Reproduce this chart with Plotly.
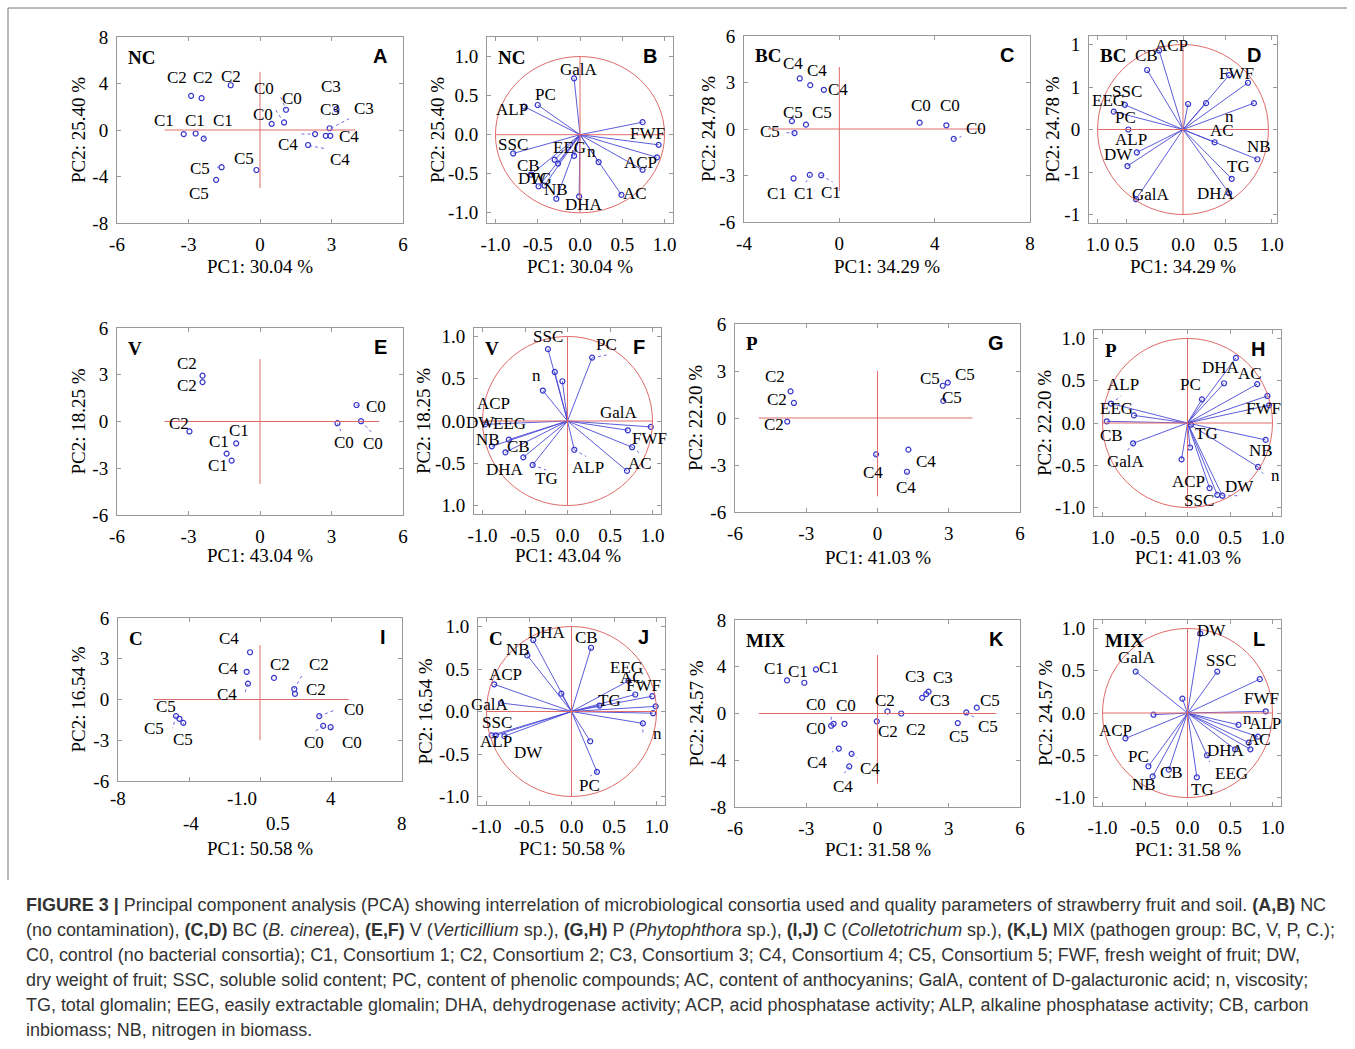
import plotly.graph_objects as go

W, H = 1355, 1049

# ======================= DATA =======================
# ---- A: NC scores ----
NC_SC_ID  = ["C1","C1","C1","C2","C2","C2","C0","C0","C0","C3","C3","C3","C4","C4","C4","C5","C5","C5"]
NC_SC_PC1 = [-3.20,-2.70,-2.36,-2.89,-2.45,-1.23,0.49,1.01,1.09,3.21,2.92,2.95,2.76,2.31,2.02,-1.61,-1.84,-0.15]
NC_SC_PC2 = [-0.35,-0.30,-0.74,2.94,2.74,3.85,0.53,0.65,1.74,1.79,0.15,-0.50,-0.50,-0.35,-1.29,-3.20,-4.29,-3.44]
# ---- B: NC loadings ----
NC_LD_PC1 = [-0.07,-0.50,-0.66,0.74,0.93,0.91,0.74,0.49,0.22,-0.01,-0.07,-0.79,-0.30,-0.26,-0.58,-0.49,-0.42,-0.28]
NC_LD_PC2 = [0.72,0.38,0.36,0.16,-0.13,-0.29,-0.45,-0.77,-0.35,-0.79,-0.27,-0.24,-0.32,-0.37,-0.51,-0.66,-0.65,-0.82]
NC_LD_VAR = ["GalA","PC","ALP","FWF","SSC","EEG","n","ACP","CB","DW","TG","NB","DHA","AC"]

# ---- C: BC scores ----
BC_SC_ID  = ["C4","C4","C4","C5","C5","C5","C0","C0","C0","C1","C1","C1"]
BC_SC_PC1 = [-1.66,-1.22,-0.65,-1.99,-1.40,-1.88,3.37,4.49,4.80,-1.92,-1.24,-0.76]
BC_SC_PC2 = [3.26,2.83,2.53,0.51,0.28,-0.26,0.41,0.24,-0.64,-3.19,-2.96,-2.98]
# ---- D: BC loadings ----
BC_LD_PC1 = [-0.28,-0.42,0.54,0.76,0.83,0.06,0.27,-0.68,-0.81,-0.64,-0.54,-0.65,0.37,0.87,0.57,0.54,-0.55]
BC_LD_PC2 = [0.93,0.70,0.64,0.55,0.31,0.30,0.31,0.29,0.21,0.00,-0.27,-0.43,-0.15,-0.35,-0.58,-0.75,-0.82]
BC_LD_VAR = ["ACP","CB","FWF","SSC","EEG","PC","n","AC","ALP","NB","DW","TG","DHA","GalA"]

# ---- E: V scores ----
V_SC_ID  = ["C2","C2","C2","C1","C1","C1","C0","C0","C0"]
V_SC_PC1 = [-2.41,-2.41,-2.96,-1.00,-1.40,-1.19,4.05,4.24,3.25]
V_SC_PC2 = [2.94,2.53,-0.64,-1.40,-2.06,-2.51,1.06,0.02,-0.11]
# ---- F: V loadings ----
V_LD_PC1 = [-0.23,0.29,-0.15,-0.06,-0.29,0.98,0.71,0.76,0.70,0.08,-0.41,-0.52,-0.73,-0.69,-0.89,-0.97]
V_LD_PC2 = [0.85,0.75,0.58,0.47,0.36,-0.07,-0.11,-0.31,-0.59,-0.34,-0.52,-0.43,-0.37,-0.22,-0.30,-0.04]
V_LD_VAR = ["SSC","PC","n","ACP","DW","EEG","GalA","NB","CB","FWF","DHA","ALP","AC","TG"]

# ---- G: P scores ----
P_SC_ID  = ["C2","C2","C2","C5","C5","C5","C4","C4","C4"]
P_SC_PC1 = [-3.66,-3.52,-3.80,2.75,2.96,2.77,-0.06,1.30,1.24]
P_SC_PC2 = [1.70,0.96,-0.23,2.06,2.26,1.09,-2.32,-2.02,-3.43]
# ---- H: P loadings ----
P_LD_PC1 = [0.57,0.43,0.82,0.94,0.96,0.17,-0.90,-0.63,-0.95,-0.64,0.04,0.92,0.83,0.03,-0.07,0.26,0.35,0.41]
P_LD_PC2 = [0.77,0.47,0.46,0.32,0.21,0.28,0.23,0.09,0.02,-0.24,-0.02,-0.20,-0.52,-0.29,-0.43,-0.77,-0.85,-0.86]
P_LD_VAR = ["DHA","AC","PC","ALP","EEG","FWF","CB","TG","NB","GalA","n","ACP","DW","SSC"]

# ---- I: C scores ----
C_SC_ID  = ["C4","C4","C4","C2","C2","C2","C5","C5","C5","C0","C0","C0"]
C_SC_PC1 = [-0.56,-0.75,-0.68,0.79,1.93,1.97,-4.73,-4.54,-4.32,3.34,3.56,3.98]
C_SC_PC2 = [3.48,2.04,1.17,1.59,0.77,0.42,-1.22,-1.42,-1.72,-1.22,-1.94,-2.04]
# ---- J: C loadings ----
C_LD_PC1 = [-0.45,-0.52,0.23,-0.12,-0.91,0.67,0.75,0.95,0.99,0.96,0.84,0.33,-0.83,-0.94,-0.89,-0.79,0.22,0.30]
C_LD_PC2 = [0.84,0.66,0.75,0.21,0.32,0.36,0.20,0.18,0.06,-0.02,-0.14,0.07,0.10,-0.28,-0.28,-0.29,-0.35,-0.71]
C_LD_VAR = ["DHA","CB","NB","ACP","EEG","AC","FWF","TG","GalA","SSC","ALP","DW","n","PC"]

# ---- K: MIX scores ----
MIX_SC_ID  = ["C1","C1","C1","C0","C0","C0","C2","C2","C2","C3","C3","C3","C5","C5","C5","C4","C4","C4"]
MIX_SC_PC1 = [-3.81,-3.08,-2.59,-1.85,-1.95,-1.39,0.42,1.00,-0.03,1.88,2.05,2.15,4.18,3.74,3.38,-1.63,-1.09,-1.19]
MIX_SC_PC2 = [2.83,2.63,3.77,-0.88,-1.05,-0.88,0.18,0.00,-0.67,1.34,1.66,1.87,0.50,0.09,-0.82,-3.00,-3.45,-4.53]
# ---- L: MIX loadings ----
MIX_LD_PC1 = [0.15,0.35,-0.61,-0.06,0.85,0.92,-0.40,0.60,0.83,0.72,0.74,0.56,0.23,-0.73,-0.46,-0.41,-0.22,0.11]
MIX_LD_PC2 = [0.94,0.49,0.49,0.17,0.40,0.02,-0.02,-0.14,-0.28,-0.35,-0.43,-0.43,-0.50,-0.30,-0.63,-0.75,-0.67,-0.76]
MIX_LD_VAR = ["DW","GalA","SSC","FWF","n","ALP","ACP","AC","DHA","PC","CB","EEG","NB","TG"]

PANEL_NAMES = ["NC","NC","BC","BC","V","V","P","P","C","C","MIX","MIX"]
PANEL_LETTERS = ["A","B","C","D","E","F","G","H","I","J","K","L"]
PC1_TITLES = ["PC1: 30.04 %","PC1: 30.04 %","PC1: 34.29 %","PC1: 34.29 %","PC1: 43.04 %","PC1: 43.04 %",
              "PC1: 41.03 %","PC1: 41.03 %","PC1: 50.58 %","PC1: 50.58 %","PC1: 31.58 %","PC1: 31.58 %"]
PC2_TITLES = ["PC2: 25.40 %","PC2: 25.40 %","PC2: 24.78 %","PC2: 24.78 %","PC2: 18.25 %","PC2: 18.25 %",
              "PC2: 22.20 %","PC2: 22.20 %","PC2: 16.54 %","PC2: 16.54 %","PC2: 24.57 %","PC2: 24.57 %"]

# ======================= LAYOUT (positions / styles) =======================
SERIF = "Liberation Serif"
SANS = "Liberation Sans"
BLUE = "#3535cc"
VBLUE = "#4a4ad6"
LEADER = "#6b6be0"
RED = "#e06a6a"
FRAME = "#9a9a9a"

# label positions (data units of each panel)
LBL_A = [(-4.04,0.85),(-2.71,0.85),(-1.54,0.85),(-3.48,4.5),(-2.39,4.5),(-1.23,4.59),(0.13,1.29),(1.34,2.68),(0.17,3.6),
         (2.97,3.7),(2.95,1.74),(4.35,1.88),(3.74,-0.56),(1.18,-1.29),(3.35,-2.53),(-2.50,-3.35),(-2.57,-5.44),(-0.67,-2.47)]
LBL_B = [(-0.01,0.84),(-0.41,0.52),(-0.81,0.32),(0.80,0.01),(-0.79,-0.13),(-0.12,-0.16),(0.14,-0.22),(0.71,-0.35),
         (-0.61,-0.39),(-0.56,-0.56),(-0.47,-0.56),(-0.28,-0.70),(0.05,-0.89),(0.65,-0.75)]
LBL_C = [(-1.96,4.22),(-0.95,3.79),(-0.07,2.57),(-1.96,1.07),(-0.73,1.07),(-2.91,-0.15),(3.41,1.5),(4.63,1.5),(5.73,0.06),
         (-2.6,-4.18),(-1.47,-4.18),(-0.35,-4.07)]
LBL_D = [(-0.13,0.99),(-0.43,0.87),(0.63,0.66),(-0.65,0.45),(-0.87,0.34),(-0.67,0.14),(0.54,0.15),(0.46,-0.01),
         (-0.61,-0.12),(0.89,-0.20),(-0.75,-0.29),(0.65,-0.44),(0.39,-0.75),(-0.38,-0.76)]
LBL_E = [(-3.06,3.74),(-3.06,2.3),(-3.41,-0.15),(-0.88,-0.57),(-1.73,-1.3),(-1.77,-2.85),(4.87,0.98),(4.73,-1.40),(3.53,-1.32)]
LBL_F = [(-0.23,1.0),(0.46,0.9),(-0.36,0.54),(-0.87,0.21),(-1.02,-0.02),(-0.68,-0.03),(0.6,0.1),(-0.94,-0.22),
         (-0.58,-0.30),(0.96,-0.21),(-0.74,-0.57),(0.24,-0.55),(0.85,-0.5),(-0.25,-0.68)]
LBL_G = [(-4.3,2.66),(-4.25,1.17),(-4.34,-0.43),(2.23,2.55),(3.69,2.77),(3.13,1.34),(-0.17,-3.51),(2.04,-2.77),(1.2,-4.45)]
LBL_H = [(0.39,0.66),(0.74,0.58),(0.04,0.46),(-0.76,0.45),(-0.83,0.17),(0.89,0.17),(-0.89,-0.15),(0.22,-0.12),
         (0.87,-0.33),(-0.72,-0.46),(1.04,-0.62),(0.01,-0.69),(0.61,-0.75),(0.14,-0.92)]
LBL_I = [(-1.73,4.48),(-1.82,2.31),(-1.88,0.37),(1.13,2.61),(3.30,2.61),(3.15,0.75),(-5.29,-0.5),(-5.95,-2.11),(-4.35,-2.95),
         (5.29,-0.74),(3.06,-3.2),(5.16,-3.2)]
LBL_J = [(-0.29,0.93),(0.18,0.87),(-0.63,0.73),(-0.78,0.44),(0.65,0.52),(0.71,0.40),(0.85,0.31),(0.45,0.13),
         (-0.96,0.08),(-0.88,-0.13),(-0.89,-0.35),(-0.51,-0.48),(1.01,-0.26),(0.21,-0.87)]
LBL_K = [(-4.37,3.85),(-3.35,3.56),(-2.04,3.91),(-2.58,0.79),(-1.34,0.70),(-2.59,-1.26),(0.31,1.14),(1.63,-1.34),(0.45,-1.55),
         (1.59,3.18),(2.75,3.12),(2.65,1.08),(4.74,1.14),(4.67,-1.11),(3.42,-1.99),(-2.55,-4.18),(-0.32,-4.7),(-1.44,-6.22)]
LBL_L = [(0.28,0.97),(-0.6,0.66),(0.39,0.62),(0.87,0.17),(0.71,-0.07),(0.91,-0.13),(-0.85,-0.21),(0.84,-0.31),
         (0.45,-0.44),(-0.58,-0.52),(-0.19,-0.70),(0.52,-0.71),(-0.51,-0.84),(0.18,-0.91)]

# dotted leader segments (x0, y0, x1, y1) per panel index
LEADERS = {
    0: [(1.74,-0.35,2.27,-0.35),(2.06,-1.35,2.69,-1.59),(2.97,0.15,3.74,0.97),(0.87,2.82,1.09,1.79),
        (0.66,1.71,0.97,0.76),(-2.36,-0.74,-2.24,-0.26),(-1.80,-3.2,-1.61,-3.2)],
    2: [(-2.22,-0.24,-1.88,-0.26),(-0.76,-2.98,-0.28,-3.43),(-1.24,-2.96,-1.40,-3.43),(4.8,-0.64,5.12,-0.49)],
    4: [(4.05,1.06,4.31,0.94),(4.24,0.02,4.73,-0.77),(3.25,-0.11,3.39,-0.62)],
    5: [(0.29,0.75,0.46,0.78),(0.08,-0.34,0.22,-0.42),(-0.41,-0.52,-0.25,-0.58),(0.76,-0.31,0.85,-0.38)],
    6: [(-0.06,-2.32,-0.17,-2.7),(1.24,-3.43,1.24,-3.87),(2.96,2.26,3.1,2.5)],
    7: [(-0.90,0.23,-0.78,0.32),(-0.64,-0.24,-0.71,-0.33),(0.41,-0.86,0.60,-0.86),(0.83,-0.52,0.89,-0.60)],
    8: [(3.34,-1.22,4.28,-0.75),(3.56,-1.94,3.09,-2.36),(3.98,-2.04,4.16,-2.36),(1.93,0.77,2.35,1.74),
        (-0.68,1.17,-0.88,0.37),(-4.73,-1.22,-4.92,-2.11),(-4.32,-1.72,-4.17,-2.11)],
    9: [(0.84,-0.14,0.84,-0.26),(0.30,-0.71,0.22,-0.76)],
    10: [(-1.95,-1.05,-1.95,-0.09),(-1.63,-3.0,-1.92,-3.3),(-1.09,-3.45,-0.88,-3.8),(-1.19,-4.53,-1.39,-5.1),
         (3.74,0.09,4.07,-0.32)],
    11: [(0.23,-0.50,0.26,-0.58)],
}

# panel boxes in pixels: left, top, right, bottom
BOX = [(117,37,403,223),(487,37,673,223),(744,36,1030,222),(1089,36,1277,223),
       (117,328,403,515),(474,328,661,514),(735,324,1020,512),(1094,330,1281,516),
       (118,618,402,781),(478,618,665,805),(735,620,1020,807),(1094,620,1281,806)]
YT_DX = [38,49,36,37,39,51,40,49,40,53,39,49]
XT_Y = [267,266,266,267,555,555,557,557,848,848,849,849]

sym = [-1.0,-0.5,0.0,0.5,1.0]
symtxt = ["-1.0","-0.5","0.0","0.5","1.0"]
AXES = [
    dict(xr=[-6,6], xv=[-6,-3,0,3,6], xt=["-6","-3","0","3","6"], yr=[-8,8], yv=[-8,-4,0,4,8], yt=["-8","-4","0","4","8"]),
    dict(xr=[-1.1,1.1], xv=sym, xt=symtxt, yr=[-1.13,1.25], yv=sym, yt=symtxt),
    dict(xr=[-4,8], xv=[-4,0,4,8], xt=["-4","0","4","8"], yr=[-6,6], yv=[-6,-3,0,3,6], yt=["-6","-3","0","3","6"]),
    dict(xr=[-1.1,1.1], xv=[-1.0,-0.66,0,0.5,1.04], xt=["1.0","0.5","0.0","0.5","1.0"], yr=[-1.1,1.1], yv=sym, yt=["-1","-1","0","1","1"]),
    dict(xr=[-6,6], xv=[-6,-3,0,3,6], xt=["-6","-3","0","3","6"], yr=[-6,6], yv=[-6,-3,0,3,6], yt=["-6","-3","0","3","6"]),
    dict(xr=[-1.1,1.1], xv=sym, xt=symtxt, yr=[-1.1,1.1], yv=sym, yt=["1.0","-0.5","0.0","0.5","1.0"]),
    dict(xr=[-6,6], xv=[-6,-3,0,3,6], xt=["-6","-3","0","3","6"], yr=[-6,6], yv=[-6,-3,0,3,6], yt=["-6","-3","0","3","6"]),
    dict(xr=[-1.1,1.1], xv=sym, xt=["1.0","-0.5","0.0","0.5","1.0"], yr=[-1.1,1.1], yv=sym, yt=symtxt),
    dict(xr=[-8,8], xv=[-8,-4,0,4,8], xt=None, yr=[-6,6], yv=[-6,-3,0,3,6], yt=["-6","-3","0","3","6"]),
    dict(xr=[-1.1,1.1], xv=sym, xt=symtxt, yr=[-1.1,1.1], yv=sym, yt=symtxt),
    dict(xr=[-6,6], xv=[-6,-3,0,3,6], xt=["-6","-3","0","3","6"], yr=[-8,8], yv=[-8,-4,0,4,8], yt=["-8","-4","0","4","8"]),
    dict(xr=[-1.1,1.1], xv=sym, xt=symtxt, yr=[-1.1,1.1], yv=sym, yt=symtxt),
]
# red reference cross for score plots: (x0,x1) horizontal, (y0,y1) vertical
CROSS = {0: ((-4,4),(-5,5)), 2: ((-3,6),(-4,4)), 4: ((-4,5),(-4,4)), 6: ((-5,4),(-5,3)),
         8: ((-6,5),(-3,4)), 10: ((-5,5),(-6,5))}

SCORES = {0: (NC_SC_PC1, NC_SC_PC2, NC_SC_ID, LBL_A), 2: (BC_SC_PC1, BC_SC_PC2, BC_SC_ID, LBL_C),
          4: (V_SC_PC1, V_SC_PC2, V_SC_ID, LBL_E), 6: (P_SC_PC1, P_SC_PC2, P_SC_ID, LBL_G),
          8: (C_SC_PC1, C_SC_PC2, C_SC_ID, LBL_I), 10: (MIX_SC_PC1, MIX_SC_PC2, MIX_SC_ID, LBL_K)}
LOADS = {1: (NC_LD_PC1, NC_LD_PC2, NC_LD_VAR, LBL_B), 3: (BC_LD_PC1, BC_LD_PC2, BC_LD_VAR, LBL_D),
         5: (V_LD_PC1, V_LD_PC2, V_LD_VAR, LBL_F), 7: (P_LD_PC1, P_LD_PC2, P_LD_VAR, LBL_H),
         9: (C_LD_PC1, C_LD_PC2, C_LD_VAR, LBL_J), 11: (MIX_LD_PC1, MIX_LD_PC2, MIX_LD_VAR, LBL_L)}

fig = go.Figure()
shapes = []
annots = []
layout = {}

def px2x(p): return p / W
def px2y(p): return 1 - p / H

def note(**kw):
    kw.setdefault("showarrow", False)
    kw.setdefault("xanchor", "center")
    kw.setdefault("yanchor", "middle")
    annots.append(kw)

for i in range(12):
    n = i + 1
    xa = "x" if n == 1 else "x%d" % n
    ya = "y" if n == 1 else "y%d" % n
    xkey = "xaxis" if n == 1 else "xaxis%d" % n
    ykey = "yaxis" if n == 1 else "yaxis%d" % n
    l, tp, r, b = BOX[i]
    ax = AXES[i]
    common = dict(showline=True, mirror="ticks", linecolor=FRAME, linewidth=1, ticks="inside", ticklen=4,
                  tickcolor=FRAME, showgrid=False, zeroline=False, automargin=False,
                  tickfont=dict(family=SERIF, size=19, color="black"), ticklabelstandoff=4)
    xd = dict(common, domain=[px2x(l), px2x(r)], range=ax["xr"], anchor=ya, tickmode="array", tickvals=ax["xv"])
    if ax["xt"] is None:
        xd["showticklabels"] = False
    else:
        xd["ticktext"] = ax["xt"]
    yd = dict(common, domain=[px2y(b), px2y(tp)], range=ax["yr"], anchor=xa, tickmode="array",
              tickvals=ax["yv"], ticktext=ax["yt"])
    layout[xkey] = xd
    layout[ykey] = yd

    for (x0, y0, x1, y1) in LEADERS.get(i, []):
        shapes.append(dict(type="line", xref=xa, yref=ya, x0=x0, y0=y0, x1=x1, y1=y1,
                           line=dict(color=LEADER, width=1, dash="dot")))

    if i in SCORES:
        sx, sy, sid, lbl = SCORES[i]
        (hx0, hx1), (vy0, vy1) = CROSS[i]
        shapes.append(dict(type="line", xref=xa, yref=ya, x0=hx0, x1=hx1, y0=0, y1=0, line=dict(color=RED, width=1)))
        shapes.append(dict(type="line", xref=xa, yref=ya, x0=0, x1=0, y0=vy0, y1=vy1, line=dict(color=RED, width=1)))
        fig.add_trace(go.Scatter(x=sx, y=sy, mode="markers", xaxis=xa, yaxis=ya, showlegend=False,
                                 marker=dict(symbol="circle-open", size=5, color=BLUE, line=dict(width=1.2))))
        for s, (lx, ly) in zip(sid, lbl):
            note(x=lx, y=ly, xref=xa, yref=ya, text=s, font=dict(family=SERIF, size=17, color="black"))
    else:
        lx_, ly_, var, lbl = LOADS[i]
        shapes.append(dict(type="circle", xref=xa, yref=ya, x0=-1, x1=1, y0=-1, y1=1, line=dict(color=RED, width=1)))
        shapes.append(dict(type="line", xref=xa, yref=ya, x0=-1, x1=1, y0=0, y1=0, line=dict(color=RED, width=1)))
        shapes.append(dict(type="line", xref=xa, yref=ya, x0=0, x1=0, y0=-1, y1=1, line=dict(color=RED, width=1)))
        vx, vy = [], []
        for a, c in zip(lx_, ly_):
            vx += [0, a, None]
            vy += [0, c, None]
        fig.add_trace(go.Scatter(x=vx, y=vy, mode="lines", xaxis=xa, yaxis=ya, showlegend=False,
                                 line=dict(color=VBLUE, width=0.9)))
        fig.add_trace(go.Scatter(x=lx_, y=ly_, mode="markers", xaxis=xa, yaxis=ya, showlegend=False,
                                 marker=dict(symbol="circle-open", size=5, color=BLUE, line=dict(width=1.2))))
        for s, (px_, py_) in zip(var, lbl):
            note(x=px_, y=py_, xref=xa, yref=ya, text=s, font=dict(family=SERIF, size=17, color="black"))

    # panel name and letter
    note(x=px2x(l + 9), y=px2y(tp + 20), xref="paper", yref="paper", text="<b>%s</b>" % PANEL_NAMES[i],
         xanchor="left", font=dict(family=SERIF, size=19, color="black"))
    note(x=px2x(r - 14), y=px2y(tp + 19), xref="paper", yref="paper", text="<b>%s</b>" % PANEL_LETTERS[i],
         xanchor="right", font=dict(family=SANS, size=20, color="black"))
    # axis titles
    note(x=px2x((l + r) / 2), y=px2y(XT_Y[i]), xref="paper", yref="paper", text=PC1_TITLES[i],
         font=dict(family=SERIF, size=19, color="black"))
    note(x=px2x(l - YT_DX[i]), y=px2y((tp + b) / 2), xref="paper", yref="paper", text=PC2_TITLES[i],
         textangle=-90, font=dict(family=SERIF, size=19, color="black"))

# irregular x tick labels for panel I
I_TICK_ROW1 = [(-8, "-8"), (-1.03, "-1.0"), (4, "4")]
I_TICK_ROW2 = [(-3.9, "-4"), (1.03, "0.5"), (8, "8")]
for xv, s in I_TICK_ROW1:
    note(x=xv, y=px2y(798), xref="x9", yref="paper", text=s, font=dict(family=SERIF, size=19, color="black"))
for xv, s in I_TICK_ROW2:
    note(x=xv, y=px2y(823), xref="x9", yref="paper", text=s, font=dict(family=SERIF, size=19, color="black"))

# outer frame
shapes.append(dict(type="line", xref="paper", yref="paper", x0=px2x(8), x1=px2x(1347), y0=px2y(8), y1=px2y(8),
                   line=dict(color="#777", width=1)))
shapes.append(dict(type="line", xref="paper", yref="paper", x0=px2x(8), x1=px2x(8), y0=px2y(8), y1=px2y(880),
                   line=dict(color="#777", width=1)))

CAPTION = [
    "<b>FIGURE 3 |</b> Principal component analysis (PCA) showing interrelation of microbiological consortia used and quality parameters of strawberry fruit and soil. <b>(A,B)</b> NC",
    "(no contamination), <b>(C,D)</b> BC (<i>B. cinerea</i>), <b>(E,F)</b> V (<i>Verticillium</i> sp.), <b>(G,H)</b> P (<i>Phytophthora</i> sp.), <b>(I,J)</b> C (<i>Colletotrichum</i> sp.), <b>(K,L)</b> MIX (pathogen group: BC, V, P, C.);",
    "C0, control (no bacterial consortia); C1, Consortium 1; C2, Consortium 2; C3, Consortium 3; C4, Consortium 4; C5, Consortium 5; FWF, fresh weight of fruit; DW,",
    "dry weight of fruit; SSC, soluble solid content; PC, content of phenolic compounds; AC, content of anthocyanins; GalA, content of D-galacturonic acid; n, viscosity;",
    "TG, total glomalin; EEG, easily extractable glomalin; DHA, dehydrogenase activity; ACP, acid phosphatase activity; ALP, alkaline phosphatase activity; CB, carbon",
    "inbiomass; NB, nitrogen in biomass.",
]
for k, line in enumerate(CAPTION):
    note(x=px2x(24), y=px2y(905 + 25 * k), xref="paper", yref="paper", text=line,
         xanchor="left", font=dict(family=SANS, size=17.95, color="#333333"))

fig.update_layout(width=W, height=H, margin=dict(l=0, r=0, t=0, b=0, pad=0, autoexpand=False),
                  paper_bgcolor="white", plot_bgcolor="white", showlegend=False,
                  shapes=shapes, annotations=annots, **layout)
fig.write_html("out.html", config={"displayModeBar": False},
               post_script="document.body.style.margin='0';document.body.style.overflow='hidden';")
